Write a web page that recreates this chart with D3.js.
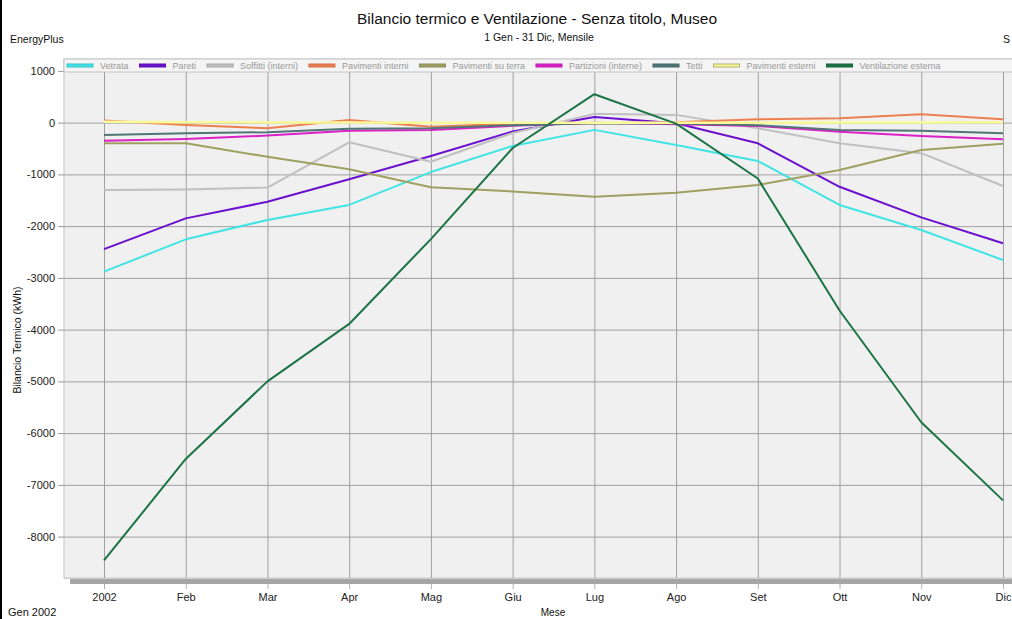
<!DOCTYPE html>
<html>
<head>
<meta charset="utf-8">
<script src="https://cdn.jsdelivr.net/npm/d3@7"></script>
<style>
  html, body { margin: 0; padding: 0; background: #ffffff; }
  svg { display: block; font-family: "Liberation Sans", Arial, sans-serif; }
</style>
</head>
<body>
<svg id="chart" width="1012" height="619"></svg>
<script>
// ---------------- DATA ----------------
const months = ["2002", "Feb", "Mar", "Apr", "Mag", "Giu", "Lug", "Ago", "Set", "Ott", "Nov", "Dic"];
const yTicks = [1000, 0, -1000, -2000, -3000, -4000, -5000, -6000, -7000, -8000];

const seriesNames = ["Vetrata", "Pareti", "Soffitti (interni)", "Pavimenti interni", "Pavimenti su terra",
  "Partizioni (interne)", "Tetti", "Pavimenti esterni", "Ventilazione esterna"];
const seriesColors = ["#40e4e4", "#6c10d0", "#c0c0c0", "#ec8050", "#a0a062",
  "#dc20c8", "#507676", "#fafa98", "#1c7446"];

const vetrata      = [-2880, -2255, -1880, -1590, -955, -450, -140, -430, -740, -1590, -2075, -2655];
const pareti       = [-2445, -1850, -1530, -1095, -645, -170, 110, -10, -400, -1240, -1830, -2330];
const soffitti     = [-1300, -1290, -1255, -380, -755, -200, 170, 150, -110, -400, -590, -1225];
const pavInterni   = [40, -45, -110, 50, -80, -20, -10, 10, 65, 85, 160, 65];
const pavTerra     = [-400, -400, -660, -900, -1250, -1330, -1430, -1355, -1205, -915, -530, -410];
const partizioni   = [-350, -315, -250, -155, -140, -60, 0, -30, -65, -175, -260, -320];
const tetti        = [-240, -205, -185, -120, -110, -50, -10, -15, -50, -140, -155, -205];
const pavEsterni   = [15, 10, 5, 5, 0, 0, 0, 0, 0, 5, 5, 10];
const ventilazione = [-8460, -6500, -5000, -3890, -2250, -490, 550, -20, -1080, -3630, -5790, -7300];

const seriesValues = [vetrata, pareti, soffitti, pavInterni, pavTerra, partizioni, tetti, pavEsterni, ventilazione];

// ---------------- LAYOUT ----------------
const svg = d3.select("#chart");
const W = 1012, H = 619;
const plotL = 64, plotR = 1070, plotT = 59, plotB = 578, legendB = 72;

const x = d3.scalePoint().domain(months).range([104, 1003]);
const y = d3.scaleLinear().domain([-8800, 1230]).range([plotB, plotT]);
const fmt = d => String(d);

// left black border
svg.append("line").attr("x1", 1).attr("x2", 1).attr("y1", 0).attr("y2", H)
  .attr("stroke", "#000").attr("stroke-width", 2);

// titles
svg.append("text").attr("x", 537).attr("y", 24).attr("text-anchor", "middle")
  .attr("font-size", 15.5).attr("fill", "#111").text("Bilancio termico e Ventilazione - Senza titolo, Museo");
svg.append("text").attr("x", 539).attr("y", 41).attr("text-anchor", "middle")
  .attr("font-size", 10.5).attr("fill", "#111").text("1 Gen - 31 Dic, Mensile");
svg.append("text").attr("x", 10).attr("y", 43)
  .attr("font-size", 10.5).attr("fill", "#111").text("EnergyPlus");
svg.append("text").attr("x", 1003).attr("y", 43)
  .attr("font-size", 10.5).attr("fill", "#111").text("S");

// plot background
svg.append("rect").attr("x", plotL).attr("y", plotT).attr("width", plotR - plotL).attr("height", plotB - plotT)
  .attr("fill", "#f0f0f0").attr("stroke", "#c4c4c4").attr("stroke-width", 1);

// horizontal gridlines + left axis
const yAxis = d3.axisLeft(y).tickValues(yTicks).tickSize(6).tickPadding(3).tickFormat(fmt);
const gy = svg.append("g").attr("transform", `translate(${plotL},0)`).call(yAxis);
gy.select(".domain").remove();
gy.selectAll(".tick line").attr("stroke", "#9a9a9a");
gy.selectAll(".tick text").attr("font-size", 11).attr("fill", "#222")
  .attr("font-family", "Liberation Sans, Arial, sans-serif");

const yGrid = d3.axisLeft(y).tickValues(yTicks).tickSize(-(plotR - plotL)).tickFormat("");
const gyg = svg.append("g").attr("transform", `translate(${plotL},0)`).call(yGrid);
gyg.select(".domain").remove();
gyg.selectAll(".tick line").attr("stroke", "#a0a0a0");

// vertical gridlines
const xGrid = d3.axisBottom(x).tickSize(-(plotB - legendB)).tickFormat("");
const gxg = svg.append("g").attr("transform", `translate(0,${plotB})`).call(xGrid);
gxg.select(".domain").remove();
gxg.selectAll(".tick line").attr("stroke", "#a0a0a0");

// x axis 3D bar
svg.append("rect").attr("x", plotL).attr("y", plotB).attr("width", W - plotL).attr("height", 1).attr("fill", "#cfcfcf");
svg.append("rect").attr("x", plotL + 6).attr("y", plotB + 1).attr("width", W - plotL).attr("height", 5).attr("fill", "#a6a6a6");

const xAxis = d3.axisBottom(x).tickSize(5).tickPadding(4);
const gx = svg.append("g").attr("transform", `translate(0,${plotB + 6})`).call(xAxis);
gx.select(".domain").remove();
gx.selectAll(".tick line").attr("stroke", "#b0b0b0");
gx.selectAll(".tick text").attr("font-size", 11).attr("fill", "#222")
  .attr("font-family", "Liberation Sans, Arial, sans-serif");

// axis titles
svg.append("text").attr("transform", "translate(21,340) rotate(-90)").attr("text-anchor", "middle")
  .attr("font-size", 10.5).attr("fill", "#111").text("Bilancio Termico (kWh)");
svg.append("text").attr("x", 553).attr("y", 616).attr("text-anchor", "middle")
  .attr("font-size", 10).attr("fill", "#111").text("Mese");
svg.append("text").attr("x", 8).attr("y", 616)
  .attr("font-size", 11).attr("fill", "#111").text("Gen 2002");

// lines
svg.append("clipPath").attr("id", "plotclip").append("rect")
  .attr("x", plotL).attr("y", legendB).attr("width", plotR - plotL).attr("height", plotB - legendB);
const line = d3.line().x((d, i) => x(months[i])).y(d => y(d));
const gl = svg.append("g").attr("clip-path", "url(#plotclip)");
seriesValues.forEach((vals, k) => {
  gl.append("path").datum(vals).attr("d", line)
    .attr("fill", "none").attr("stroke", seriesColors[k])
    .attr("stroke-width", k === 7 ? 2.5 : 2).attr("stroke-linejoin", "round");
});

// legend
svg.append("rect").attr("x", plotL).attr("y", plotT).attr("width", plotR - plotL).attr("height", legendB - plotT)
  .attr("fill", "#f4f4f4").attr("stroke", "#c4c4c4").attr("stroke-width", 1);
let lx = 67;
seriesNames.forEach((name, k) => {
  svg.append("rect").attr("x", lx).attr("y", 64).attr("width", 26).attr("height", 3)
    .attr("fill", seriesColors[k])
    .attr("stroke", k === 7 ? "#b0b070" : d3.color(seriesColors[k]).darker(0.4))
    .attr("stroke-width", 1);
  const t = svg.append("text").attr("x", lx + 33).attr("y", 69)
    .attr("font-size", 9).attr("fill", "#9a9a9a").text(name);
  lx = lx + 33 + t.node().getComputedTextLength() + 11;
});
</script>
</body>
</html>
